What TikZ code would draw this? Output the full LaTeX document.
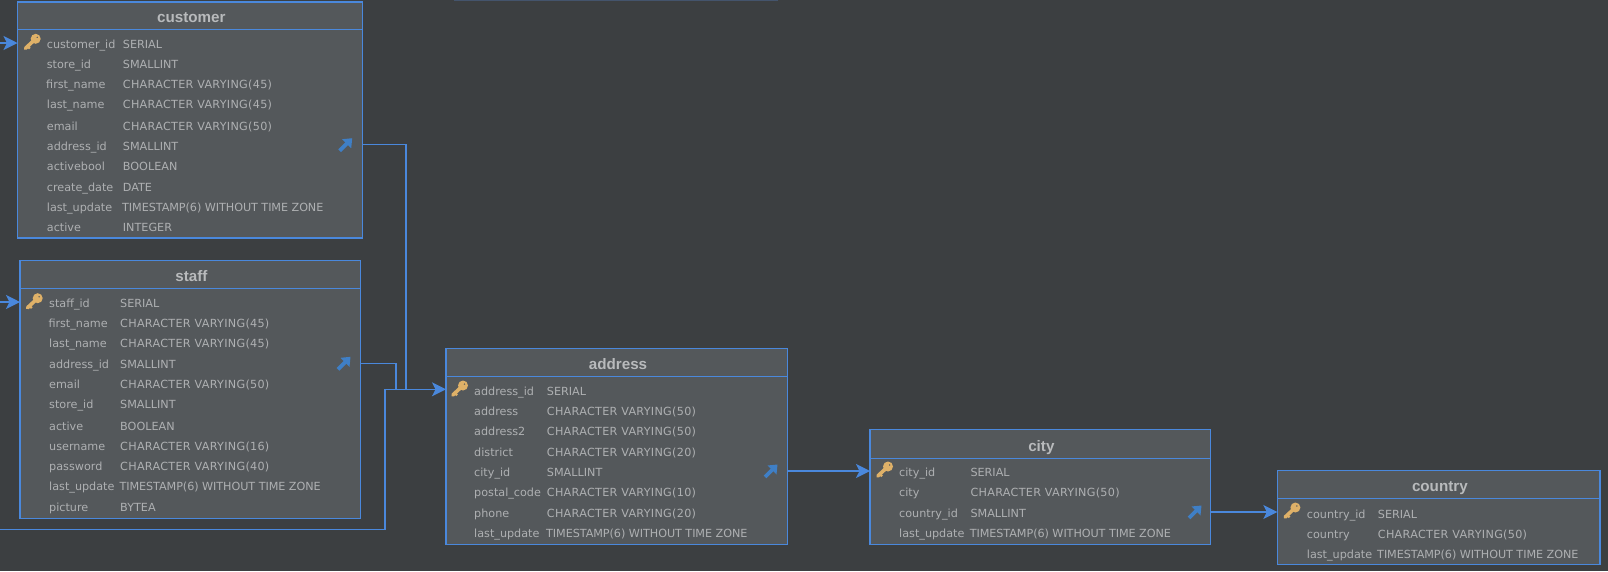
\documentclass[tikz,border=0pt]{standalone}
\usepackage{fontspec}
\setmainfont{DejaVu Sans}
\newfontfamily\titlefont{Liberation Sans}
\newfontfamily\widefont[LetterSpace=2.6]{DejaVu Sans}
\newfontfamily\tightfont[LetterSpace=-0.6]{DejaVu Sans}
\newcommand{\cv}[1]{{\widefont CHARACTER VARYING(#1)}}
\newcommand{\ts}{{\tightfont TIMESTAMP(6) WITHOUT TIME ZONE}}
\usetikzlibrary{arrows.meta,calc}
\definecolor{bgc}{HTML}{3C3F41}
\definecolor{tablefill}{HTML}{54585B}
\definecolor{edgeblue}{HTML}{4A88DC}
\definecolor{fkblue}{HTML}{3F7FC6}
\definecolor{rowtext}{HTML}{AEB0B2}
\definecolor{titletext}{HTML}{B8BABC}
\definecolor{keygold}{HTML}{DFB168}
\definecolor{topline}{HTML}{44546C}
\tikzset{
  tablebox/.style={draw=edgeblue,fill=tablefill,line width=1.2pt,inner sep=0pt,outer sep=0pt,anchor=north west},
  tablerule/.style={draw=edgeblue,line width=1.2pt},
  tabletitle/.style={font=\titlefont\bfseries\fontsize{15.2}{15}\selectfont,text=titletext,inner sep=0pt,anchor=base,xshift=1.2pt},
  rowlabel/.style={font=\fontsize{11.2}{12}\selectfont,text=rowtext,inner sep=0pt,anchor=base west},
  link/.style={draw=edgeblue,line width=1.2pt},
  linkarrow/.style={link,-{Stealth[length=14pt,width=14pt,inset=3.5pt]}},
  keyicon/.pic={
    \draw[keygold,line width=3.6pt,line cap=round] (-6.5,6) -- (1,-1);
    \draw[keygold,line width=2.2pt] (-4.5,4) -- (-2.2,6.3);
    \fill[keygold,even odd rule] (3.7,-3.5) circle[radius=5] (5.2,-5) circle[radius=1];
  },
  fkicon/.pic={
    \draw[fkblue,line width=3.8pt] (-6,6) -- (2,-2);
    \fill[fkblue] (6.5,-6.5) -- (5.5,3.5) -- (-3.5,-5.5) -- cycle;
  }
}
% name, x1, y1, x2, y2, header y, title
\newcommand{\dbtable}[7]{%
  \node[tablebox,minimum width=#4pt-#2pt,minimum height=#5pt-#3pt] (#1) at (#2,#3) {};
  \draw[tablerule] (#1.west |- 0,#6) -- (#1.east |- 0,#6);
  \node[tabletitle] (#1-title) at (#1.north |- 0,#6-7) {#7};
}
% id, name x, type x, centre y, name, type
\newcommand{\dbrow}[6]{%
  \node[rowlabel] (#1) at (#2,#4+4) {#5};
  \node[rowlabel] (#1-type) at (#3,#4+4) {#6};
}
\begin{document}
\begin{tikzpicture}[x=1pt,y=-1pt]
\useasboundingbox (0,0) rectangle (1608,571);
\fill[bgc] (0,0) rectangle (1608,571);
\fill[topline] (454,0) rectangle (778,1.2);

\dbtable{customer}{17.5}{2}{362.7}{238}{29.3}{customer}
\dbrow{c1}{46.7}{122.7}{44.7}{customer\_id}{SERIAL}
\dbrow{c2}{46.7}{122.7}{64.7}{store\_id}{SMALLINT}
\dbrow{c3}{46}{122.7}{84.7}{first\_name}{\cv{45}}
\dbrow{c4}{46.7}{122.7}{104.7}{last\_name}{\cv{45}}
\dbrow{c5}{46.7}{122.7}{126}{email}{\cv{50}}
\dbrow{c6}{46.7}{122.7}{146}{address\_id}{SMALLINT}
\dbrow{c7}{46.7}{122.7}{166}{activebool}{BOOLEAN}
\dbrow{c8}{46.7}{122.7}{187.3}{create\_date}{DATE}
\dbrow{c9}{46.7}{122}{207.3}{last\_update}{\ts}
\dbrow{c10}{46.7}{122.7}{227.3}{active}{INTEGER}
\pic at (32,42.3) {keyicon};
\pic at (345.7,144.7) {fkicon};

\dbtable{staff}{20}{260.7}{360.3}{518.3}{288.3}{staff}
\dbrow{s1}{49}{120}{303.3}{staff\_id}{SERIAL}
\dbrow{s2}{48.3}{120}{323.3}{first\_name}{\cv{45}}
\dbrow{s3}{49}{120}{343.3}{last\_name}{\cv{45}}
\dbrow{s4}{49}{120}{364.7}{address\_id}{SMALLINT}
\dbrow{s5}{49}{120}{384.7}{email}{\cv{50}}
\dbrow{s6}{49}{120}{404.7}{store\_id}{SMALLINT}
\dbrow{s7}{49}{120}{426}{active}{BOOLEAN}
\dbrow{s8}{49}{120}{446}{username}{\cv{16}}
\dbrow{s9}{49}{120}{466}{password}{\cv{40}}
\dbrow{s10}{49}{119.3}{486}{last\_update}{\ts}
\dbrow{s11}{49}{120}{507.3}{picture}{BYTEA}
\pic at (34,301.7) {keyicon};
\pic at (344,363.3) {fkicon};

\dbtable{address}{446}{348.3}{787.7}{544.3}{376.7}{address}
\dbrow{a1}{474}{546.7}{391}{address\_id}{SERIAL}
\dbrow{a2}{474}{546.7}{411}{address}{\cv{50}}
\dbrow{a3}{474}{546.7}{431}{address2}{\cv{50}}
\dbrow{a4}{474}{546.7}{452.3}{district}{\cv{20}}
\dbrow{a5}{474}{546.7}{472.3}{city\_id}{SMALLINT}
\dbrow{a6}{474}{546.7}{492.3}{postal\_code}{\cv{10}}
\dbrow{a7}{474}{546.7}{513.7}{phone}{\cv{20}}
\dbrow{a8}{474}{546}{533.7}{last\_update}{\ts}
\pic at (459.3,389) {keyicon};
\pic at (771,471) {fkicon};

\dbtable{city}{870}{429.7}{1210.3}{544.7}{458.7}{city}
\dbrow{t1}{899}{970.3}{472.3}{city\_id}{SERIAL}
\dbrow{t2}{899}{970.3}{492.3}{city}{\cv{50}}
\dbrow{t3}{899}{970.3}{513.7}{country\_id}{SMALLINT}
\dbrow{t4}{899}{969.6}{533.7}{last\_update}{\ts}
\pic at (884.3,470) {keyicon};
\pic at (1195,512) {fkicon};

\dbtable{country}{1277.3}{470.7}{1600}{564.3}{498.3}{country}
\dbrow{y1}{1306.7}{1377.7}{514}{country\_id}{SERIAL}
\dbrow{y2}{1306.7}{1377.7}{534}{country}{\cv{50}}
\dbrow{y3}{1306.7}{1377}{554}{last\_update}{\ts}
\pic at (1291.7,511) {keyicon};

% free ends at the left edge and the shared entry point of address
\coordinate (custin) at (0,43);
\coordinate (staffin) at (0,302);
\coordinate (farin) at (0,529.3);
\coordinate (addrin) at (446,389.3);
\coordinate (cityin) at (870,471);
\coordinate (countryin) at (1277.3,512);

\draw[linkarrow] (custin) -- (customer.west |- custin);
\draw[linkarrow] (staffin) -- (staff.west |- staffin);
\draw[link] (customer.east |- 0,144.7) -| (406,389.3) -- (addrin);
\draw[link] (staff.east |- 0,363.3) -| (396,389.3) -- (addrin);
\draw[linkarrow] (farin) -| (385,389.3) -- (addrin);
\draw[linkarrow] (address.east |- cityin) -- (cityin);
\draw[linkarrow] (city.east |- countryin) -- (countryin);
\end{tikzpicture}
\end{document}
